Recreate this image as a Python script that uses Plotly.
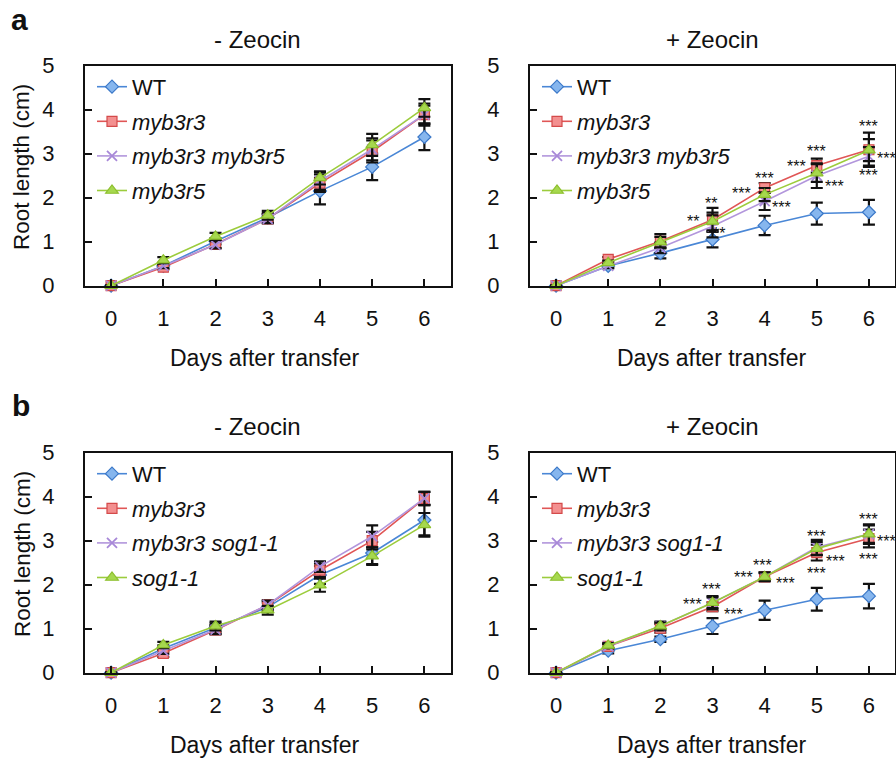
import plotly.graph_objects as go

# ---------------- data ----------------
days = [0, 1, 2, 3, 4, 5, 6]
tick_vals_y = [0, 1, 2, 3, 4, 5]

# panel a, - Zeocin
a_ctrl_wt = [0, 0.45, 1.01, 1.55, 2.15, 2.70, 3.38]
a_ctrl_r3 = [0, 0.42, 0.94, 1.52, 2.33, 3.05, 3.89]
a_ctrl_r3r5 = [0, 0.45, 0.93, 1.52, 2.38, 3.10, 3.89]
a_ctrl_r5 = [0, 0.58, 1.12, 1.60, 2.45, 3.20, 4.04]
a_ctrl_wt_err = [0, 0.06, 0.07, 0.10, 0.30, 0.30, 0.30]
a_ctrl_r3_err = [0, 0.05, 0.08, 0.10, 0.20, 0.25, 0.25]
a_ctrl_r3r5_err = [0, 0.05, 0.08, 0.10, 0.20, 0.25, 0.20]
a_ctrl_r5_err = [0, 0.07, 0.08, 0.10, 0.15, 0.25, 0.20]

# panel a, + Zeocin
a_zeo_wt = [0, 0.45, 0.74, 1.05, 1.37, 1.64, 1.67]
a_zeo_r3 = [0, 0.60, 1.01, 1.50, 2.22, 2.73, 3.09]
a_zeo_r3r5 = [0, 0.45, 0.86, 1.35, 1.92, 2.50, 2.94]
a_zeo_r5 = [0, 0.52, 0.99, 1.46, 2.07, 2.56, 3.08]
a_zeo_wt_err = [0, 0.05, 0.12, 0.18, 0.22, 0.25, 0.28]
a_zeo_r3_err = [0, 0.05, 0.16, 0.27, 0.11, 0.16, 0.39]
a_zeo_r3r5_err = [0, 0.05, 0.12, 0.25, 0.20, 0.28, 0.21]
a_zeo_r5_err = [0, 0.05, 0.12, 0.20, 0.15, 0.20, 0.25]

# panel b, - Zeocin
b_ctrl_wt = [0, 0.55, 1.02, 1.49, 2.22, 2.72, 3.47]
b_ctrl_r3 = [0, 0.44, 0.97, 1.54, 2.33, 3.00, 3.96]
b_ctrl_r3sog = [0, 0.50, 0.98, 1.54, 2.41, 3.10, 3.96]
b_ctrl_sog = [0, 0.63, 1.06, 1.42, 1.99, 2.65, 3.36]
b_ctrl_wt_err = [0, 0.07, 0.10, 0.10, 0.20, 0.25, 0.35]
b_ctrl_r3_err = [0, 0.08, 0.10, 0.10, 0.15, 0.20, 0.15]
b_ctrl_r3sog_err = [0, 0.07, 0.10, 0.10, 0.12, 0.25, 0.15]
b_ctrl_sog_err = [0, 0.07, 0.10, 0.10, 0.15, 0.20, 0.27]

# panel b, + Zeocin
b_zeo_wt = [0, 0.50, 0.76, 1.06, 1.42, 1.67, 1.74]
b_zeo_r3 = [0, 0.60, 1.01, 1.50, 2.18, 2.73, 3.05]
b_zeo_r3sog = [0, 0.60, 1.06, 1.59, 2.18, 2.85, 3.15]
b_zeo_sog = [0, 0.62, 1.06, 1.59, 2.18, 2.82, 3.15]
b_zeo_wt_err = [0, 0.06, 0.06, 0.18, 0.22, 0.26, 0.28]
b_zeo_r3_err = [0, 0.05, 0.10, 0.10, 0.10, 0.18, 0.20]
b_zeo_r3sog_err = [0, 0.05, 0.10, 0.15, 0.08, 0.17, 0.22]
b_zeo_sog_err = [0, 0.05, 0.08, 0.12, 0.10, 0.15, 0.20]

# significance marks (+ Zeocin panels): x, y, label
a_star_x = [2.98, 2.62, 3.12, 4.0, 3.56, 4.32, 5.0, 4.61, 5.34, 6.0, 6.34, 6.0]
a_star_y = [1.95, 1.54, 1.27, 2.52, 2.18, 1.86, 3.13, 2.79, 2.35, 3.71, 2.98, 2.60]
a_star_t = ["**", "**", "**", "***", "***", "***", "***", "***", "***", "***", "***", "***"]
b_star_x = [2.98, 2.62, 3.40, 3.96, 3.60, 4.40, 5.0, 5.36, 5.0, 5.99, 6.34, 5.99]
b_star_y = [1.98, 1.64, 1.41, 2.52, 2.26, 2.11, 3.19, 2.62, 2.34, 3.58, 3.07, 2.66]
b_star_t = ["***"] * 12

# ---------------- styling ----------------
FONT = "Liberation Sans, Arial, Helvetica, sans-serif"
W, H = 896, 760

def px_x(p):
    return p / W

def px_y(p):
    return 1 - p / H

styles = [
    dict(line=dict(color="#4a87d6", width=1.6),
         marker=dict(symbol="diamond", size=10, color="#86b6ee",
                     line=dict(color="#3b78c8", width=1.2))),
    dict(line=dict(color="#e05656", width=1.6),
         marker=dict(symbol="square", size=10, color="#f39090",
                     line=dict(color="#d44a4a", width=1.2))),
    dict(line=dict(color="#b296dc", width=1.6),
         marker=dict(symbol="x-thin-open", size=10, color="#a888d8",
                     line=dict(color="#a888d8", width=1.8))),
    dict(line=dict(color="#9ccc3c", width=1.6),
         marker=dict(symbol="triangle-up", size=11, color="#a6d84e",
                     line=dict(color="#8cbf2c", width=1.2))),
]

fig = go.Figure()

panels = [
    ("x", "y", "legend",
     [a_ctrl_wt, a_ctrl_r3, a_ctrl_r3r5, a_ctrl_r5],
     [a_ctrl_wt_err, a_ctrl_r3_err, a_ctrl_r3r5_err, a_ctrl_r5_err],
     ["WT", "<i>myb3r3</i>", "<i>myb3r3 myb3r5</i>", "<i>myb3r5</i>"]),
    ("x2", "y2", "legend2",
     [a_zeo_wt, a_zeo_r3, a_zeo_r3r5, a_zeo_r5],
     [a_zeo_wt_err, a_zeo_r3_err, a_zeo_r3r5_err, a_zeo_r5_err],
     ["WT", "<i>myb3r3</i>", "<i>myb3r3 myb3r5</i>", "<i>myb3r5</i>"]),
    ("x3", "y3", "legend3",
     [b_ctrl_wt, b_ctrl_r3, b_ctrl_r3sog, b_ctrl_sog],
     [b_ctrl_wt_err, b_ctrl_r3_err, b_ctrl_r3sog_err, b_ctrl_sog_err],
     ["WT", "<i>myb3r3</i>", "<i>myb3r3 sog1-1</i>", "<i>sog1-1</i>"]),
    ("x4", "y4", "legend4",
     [b_zeo_wt, b_zeo_r3, b_zeo_r3sog, b_zeo_sog],
     [b_zeo_wt_err, b_zeo_r3_err, b_zeo_r3sog_err, b_zeo_sog_err],
     ["WT", "<i>myb3r3</i>", "<i>myb3r3 sog1-1</i>", "<i>sog1-1</i>"]),
]

for xa, ya, lg, series, errs, names in panels:
    for i, (vals, err, name) in enumerate(zip(series, errs, names)):
        fig.add_trace(go.Scatter(
            x=days, y=vals, name=name, mode="lines+markers",
            xaxis=xa, yaxis=ya, legend=lg, cliponaxis=False,
            legendgroup=f"{lg}_{i}",
            error_y=dict(type="data", array=err, visible=True,
                         color="#111111", thickness=2.2, width=6),
            **styles[i]))

# axis domains in pixels
col_x = [(85, 450.5), (530, 895)]
row_y = [(65.7, 285.7), (452.7, 672.7)]

axis_common = dict(showline=True, linecolor="#111111", linewidth=2, mirror=True,
                   ticks="inside", ticklen=7, tickwidth=1.5, tickcolor="#111111",
                   showgrid=False, zeroline=False, automargin=False,
                   tickfont=dict(family=FONT, size=22, color="#111111"))

layout_axes = {}
for k, (r, c) in enumerate([(0, 0), (0, 1), (1, 0), (1, 1)]):
    sfx = "" if k == 0 else str(k + 1)
    layout_axes["xaxis" + sfx] = dict(
        domain=[px_x(col_x[c][0]), px_x(col_x[c][1])],
        anchor="y" + sfx, range=[-0.5, 6.5], tickvals=days,
        ticklabelstandoff=12, **axis_common)
    layout_axes["yaxis" + sfx] = dict(
        domain=[px_y(row_y[r][1]), px_y(row_y[r][0])],
        anchor="x" + sfx, range=[0, 5], tickvals=tick_vals_y,
        ticklabelstandoff=24, **axis_common)

legend_common = dict(font=dict(family=FONT, size=22, color="#111111"),
                     bgcolor="rgba(0,0,0,0)", borderwidth=0,
                     xanchor="left", yanchor="top", traceorder="grouped",
                     tracegroupgap=3, itemwidth=30)
legends = {}
for k, (r, c) in enumerate([(0, 0), (0, 1), (1, 0), (1, 1)]):
    key = "legend" if k == 0 else f"legend{k + 1}"
    legends[key] = dict(x=px_x(col_x[c][0] + 7), y=px_y(row_y[r][0] + 0.2),
                        **legend_common)

annotations = []
txt = dict(family=FONT, color="#111111")
anchor = dict(xref="paper", yref="paper", showarrow=False,
              xanchor="center", yanchor="middle")

# panel letters
annotations.append(dict(text="<b>a</b>", x=px_x(19), y=px_y(19),
                        font=dict(size=30, **txt), **anchor))
annotations.append(dict(text="<b>b</b>", x=px_x(21), y=px_y(405),
                        font=dict(size=30, **txt), **anchor))

titles = [("- Zeocin", 257, 40), ("+ Zeocin", 712, 40),
          ("- Zeocin", 257, 426), ("+ Zeocin", 712, 426)]
for t, x, y in titles:
    annotations.append(dict(text=t, x=px_x(x), y=px_y(y),
                            font=dict(size=24, **txt), **anchor))

for cx in (265, 712):
    for yy in (358, 745):
        annotations.append(dict(text="Days after transfer", x=px_x(cx), y=px_y(yy),
                                font=dict(size=23, **txt), **anchor))
for yy in (167, 554):
    annotations.append(dict(text="Root length (cm)", x=px_x(22), y=px_y(yy),
                            textangle=-90, font=dict(size=22.5, **txt), **anchor))

for xs, ys, ts, xa, ya in ((a_star_x, a_star_y, a_star_t, "x2", "y2"),
                           (b_star_x, b_star_y, b_star_t, "x4", "y4")):
    for sx, sy, st in zip(xs, ys, ts):
        annotations.append(dict(text=st, x=sx, y=sy, xref=xa, yref=ya,
                                showarrow=False, yshift=-4,
                                font=dict(size=16, **txt)))

fig.update_layout(
    width=W, height=H, margin=dict(l=0, r=0, t=0, b=0, autoexpand=False),
    paper_bgcolor="white", plot_bgcolor="white",
    showlegend=True, annotations=annotations,
    **layout_axes, **legends)

fig.write_html("out.html")
